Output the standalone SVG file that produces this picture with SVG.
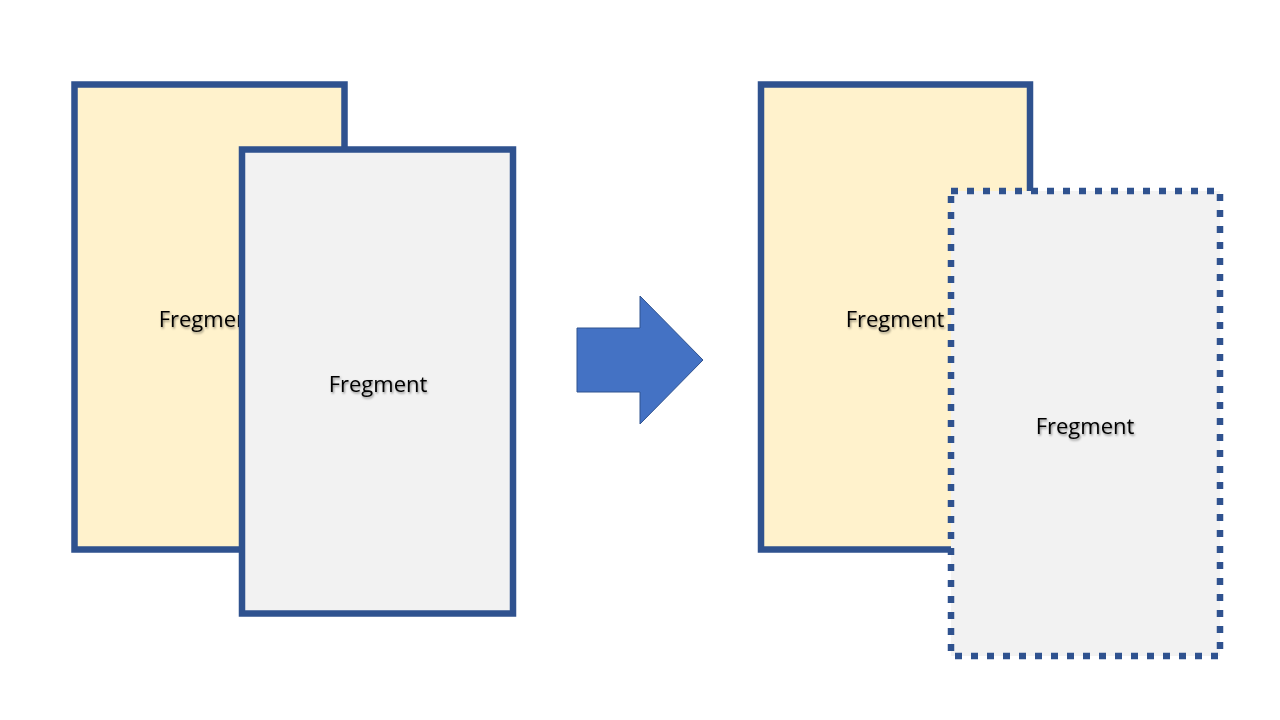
<svg xmlns="http://www.w3.org/2000/svg" width="1280" height="720" viewBox="0 0 1280 720">
<defs>
<filter id="sh" x="-10%" y="-30%" width="130%" height="160%">
<feDropShadow dx="1" dy="1.5" stdDeviation="0.8" flood-color="#000" flood-opacity="0.45"/>
</filter>
</defs>
<style>
.frame{stroke:#2F528F;stroke-width:6.5}
.yel{fill:#FFF2CC}
.gry{fill:#F2F2F2}
.dot{stroke-dasharray:7 9}
.lbl{font-family:"Open Sans","Noto Sans",sans-serif;font-size:22px;fill:#000;text-anchor:middle;filter:url(#sh)}
</style>
<rect width="1280" height="720" fill="#fff"/>
<g id="left-back">
<rect class="frame yel" x="74.5" y="84.5" width="270" height="465"/>
<text class="lbl" x="208" y="327">Fregment</text>
</g>
<g id="left-front">
<rect class="frame gry" x="242" y="149.5" width="271" height="464"/>
<text class="lbl" x="378" y="392">Fregment</text>
</g>
<g id="connectors">
<polygon points="577,328 640,328 640,296 703,360 640,424 640,392 577,392" fill="#4472C4" stroke="#2F528F" stroke-width="1"/>
</g>
<g id="right-back">
<rect class="frame yel" x="761" y="84.5" width="269" height="465"/>
<text class="lbl" x="895" y="327">Fregment</text>
</g>
<g id="right-front">
<rect class="frame gry dot" x="951" y="191" width="269" height="465"/>
<text class="lbl" x="1085" y="434">Fregment</text>
</g>
</svg>
